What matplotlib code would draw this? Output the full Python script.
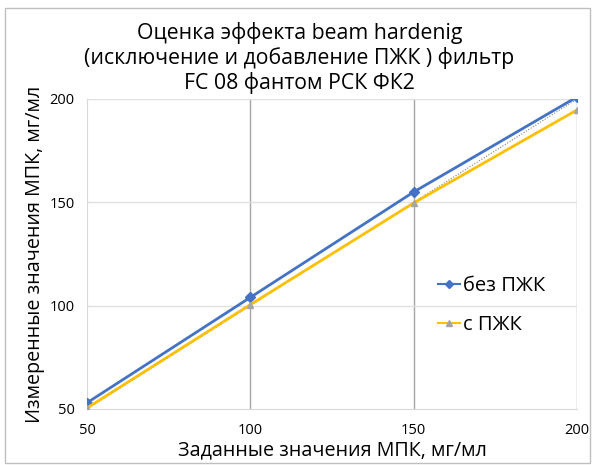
import matplotlib
matplotlib.use("Agg")
import matplotlib.pyplot as plt
from matplotlib.patches import Rectangle

x_vals = [50, 100, 150, 200]
bez_pzhk = [53, 104, 155, 201]
s_pzhk = [50.5, 100.5, 149.7, 194.7]
ref_line = [50, 200]
x_ticks = [50, 100, 150, 200]
y_ticks = [50, 100, 150, 200]

plt.rcParams['font.family'] = ['Open Sans', 'DejaVu Sans']

fig = plt.figure(figsize=(5.93, 4.65), dpi=100)
ax = fig.add_axes([87/593, 1-409/465, (577-87)/593, (409-99)/465])

fig.patches.append(Rectangle((5/593, 2/465), 585/593, 455/465, transform=fig.transFigure,
                             fill=False, edgecolor='#bfbfbf', linewidth=1))

ax.plot(ref_line, ref_line, color='#7f7f7f', linestyle=(0, (1, 1.5)), linewidth=0.8, zorder=2)
ax.plot(x_vals, bez_pzhk, color='#4472c4', linewidth=2, marker='D', markersize=5,
        label='без ПЖК', zorder=3)
ax.plot(x_vals, s_pzhk, color='#ffc000', linewidth=2, marker='^', markersize=5,
        markerfacecolor='#a5a5a5', markeredgecolor='#a5a5a5', label='с ПЖК', zorder=3)

ax.set_xlim(50, 200)
ax.set_ylim(50, 200)
ax.set_xticks(x_ticks)
ax.set_yticks(y_ticks)
ax.tick_params(axis='both', length=0, labelsize=10.5, colors='#000000')
ax.tick_params(axis='x', pad=10)
ax.tick_params(axis='y', pad=9)

for v in x_ticks[1:]:
    ax.axvline(v, color='#a6a6a6', linewidth=1, zorder=1)
for v in y_ticks[1:]:
    ax.axhline(v, color='#e0e0e0', linewidth=1, zorder=1)
for side in ['top', 'right']:
    ax.spines[side].set_visible(False)
ax.spines['left'].set_color('#d9d9d9')
ax.spines['bottom'].set_color('#d9d9d9')

ax.set_xlabel('Заданные значения МПК, мг/мл', fontsize=14.2, labelpad=2)
ax.set_ylabel('Измеренные значения МПК, мг/мл', fontsize=14.2, labelpad=3)

fig.text(0.505, 1-33/465, 'Оценка эффекта beam hardenig', ha='center', va='center', fontsize=15.3)
fig.text(0.505, 1-58/465, '(исключение и добавление ПЖК ) фильтр', ha='center', va='center', fontsize=15.3)
fig.text(0.505, 1-83/465, 'FC 08 фантом РСК ФК2', ha='center', va='center', fontsize=15.3)

leg = ax.legend(loc='center left', bbox_to_anchor=(0.68, 0.335), frameon=False, fontsize=14.5,
                handlelength=1.1, handletextpad=0.15, labelspacing=0.95)
for h in leg.legend_handles:
    h.set_linewidth(1.5)
    h.set_markersize(4)

fig.savefig('out.png', dpi=100)
